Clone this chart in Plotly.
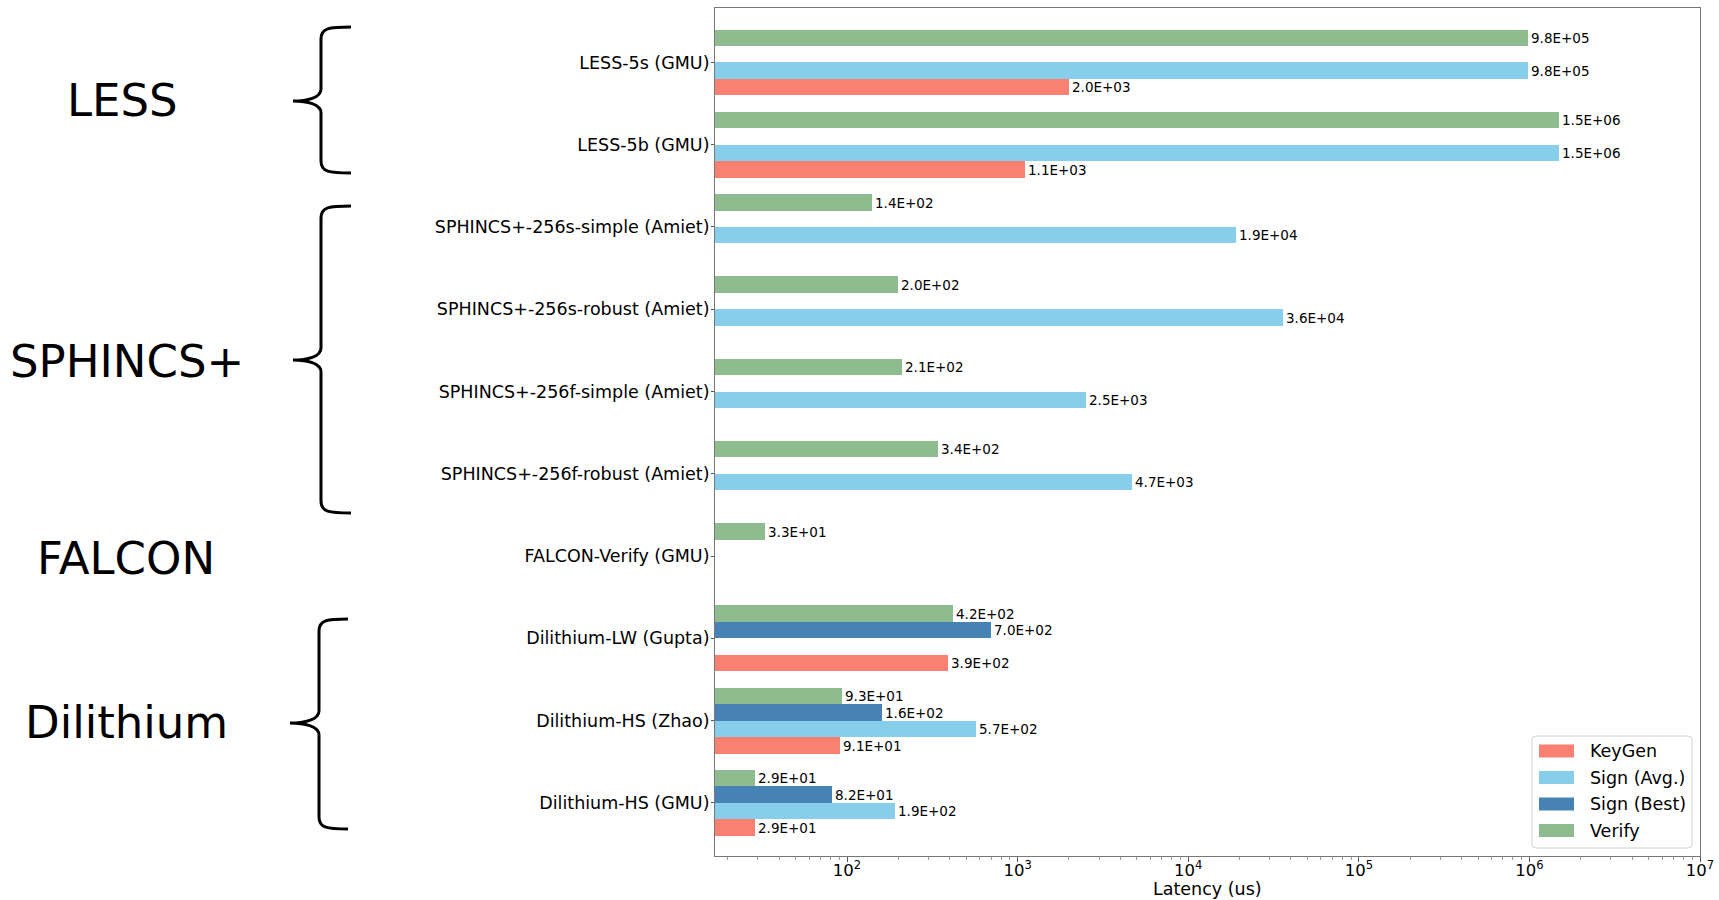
import plotly.graph_objects as go

# ---- data -----------------------------------------------------------------
categories = [
    "LESS-5s (GMU)",
    "LESS-5b (GMU)",
    "SPHINCS+-256s-simple (Amiet)",
    "SPHINCS+-256s-robust (Amiet)",
    "SPHINCS+-256f-simple (Amiet)",
    "SPHINCS+-256f-robust (Amiet)",
    "FALCON-Verify (GMU)",
    "Dilithium-LW (Gupta)",
    "Dilithium-HS (Zhao)",
    "Dilithium-HS (GMU)",
]

# latency in microseconds (None = not reported)
keygen = [2.0e3, 1.1e3, None, None, None, None, None, 3.9e2, 9.1e1, 2.9e1]
sign_avg = [9.8e5, 1.5e6, 1.9e4, 3.6e4, 2.5e3, 4.7e3, None, None, 5.7e2, 1.9e2]
sign_best = [None, None, None, None, None, None, None, 7.0e2, 1.6e2, 8.2e1]
verify = [9.8e5, 1.5e6, 1.4e2, 2.0e2, 2.1e2, 3.4e2, 3.3e1, 4.2e2, 9.3e1, 2.9e1]

series_names = ["KeyGen", "Sign (Avg.)", "Sign (Best)", "Verify"]
series_values = [keygen, sign_avg, sign_best, verify]

x_tick_exponents = [2, 3, 4, 5, 6, 7]

# scheme families shown at the left
family_names = ["LESS", "SPHINCS+", "FALCON", "Dilithium"]

# ---- styling ----------------------------------------------------------------
colors = ["#FA8072", "#87CEEB", "#4682B4", "#8FBC8F"]
offsets = [0.3, 0.1, -0.1, -0.3]
bar_h = 0.2
FONT = "DejaVu Sans"

W, H = 1719, 900
ML, MR, MT, MB = 715, 19, 8, 44
PW, PH = W - ML - MR, H - MT - MB


def px(x):
    return (x - ML) / PW


def py(y):
    return (H - MB - y) / PH


def fmt(v):
    return f"{v:.1E}"


fig = go.Figure()

for name, vals, col, off in zip(series_names, series_values, colors, offsets):
    ys, xs, txt = [], [], []
    for i, v in enumerate(vals):
        if v is None:
            continue
        ys.append(i + off)
        xs.append(v)
        txt.append(fmt(v))
    fig.add_trace(go.Bar(
        name=name, orientation="h", x=xs, y=ys, width=bar_h,
        marker=dict(color=col, line=dict(width=0)),
        text=txt, textposition="outside", cliponaxis=False,
        constraintext="none",
        textfont=dict(family=FONT, size=13.5, color="black"),
        showlegend=False,
    ))

minor_vals = [m * 10 ** e for e in range(1, 7) for m in range(2, 10) if m * 10 ** e > 17]

fig.update_layout(
    width=W, height=H,
    margin=dict(l=ML, r=MR, t=MT, b=MB, autoexpand=False),
    paper_bgcolor="white", plot_bgcolor="white",
    barmode="overlay", bargap=0,
    font=dict(family=FONT, color="black"),
    xaxis=dict(
        type="log", range=[1.226, 7],
        tickvals=[10 ** e for e in x_tick_exponents],
        ticktext=[f"10<sup>{e}</sup>" for e in x_tick_exponents],
        ticks="outside", ticklen=5, tickcolor="#555",
        ticklabelstandoff=-6,
        tickfont=dict(family=FONT, size=16.5, color="black"),
        minor=dict(tickvals=minor_vals, ticks="outside", ticklen=3, tickcolor="#999"),
        showline=True, linecolor="#777", linewidth=1, mirror=True,
        showgrid=False, zeroline=False, automargin=False,
    ),
    yaxis=dict(
        range=[9.646, -0.662],
        tickvals=list(range(len(categories))), ticktext=categories,
        ticks="outside", ticklen=3, tickcolor="#555",
        ticklabelstandoff=-2,
        tickfont=dict(family=FONT, size=17.5, color="black"),
        showline=True, linecolor="#777", linewidth=1, mirror=True,
        showgrid=False, zeroline=False, automargin=False,
    ),
)

annotations = []
shapes = []

# x-axis title
annotations.append(dict(
    text="Latency (us)", xref="paper", yref="paper", x=0.5, y=py(889),
    xanchor="center", yanchor="middle", showarrow=False,
    font=dict(family=FONT, size=17.5, color="black"),
))

# family labels
family_pos = [(122, 101), (127, 361), (126, 558), (126, 722)]
for name, (cx, cy) in zip(family_names, family_pos):
    annotations.append(dict(
        text=name, xref="paper", yref="paper", x=px(cx), y=py(cy),
        xanchor="center", yanchor="middle", showarrow=False,
        font=dict(family=FONT, size=45, color="black"),
    ))


def brace(xv, xt, xe, yt, yb, ym):
    pts = [
        ("M", [(xe, yt)]),
        ("C", [(xv + 8, yt), (xv, yt + 1), (xv, yt + 12)]),
        ("L", [(xv, ym - 12)]),
        ("C", [(xv, ym - 3), (xt + 14, ym), (xt, ym)]),
        ("C", [(xt + 14, ym), (xv, ym + 3), (xv, ym + 12)]),
        ("L", [(xv, yb - 12)]),
        ("C", [(xv, yb - 1), (xv + 8, yb), (xe, yb)]),
    ]
    out = []
    for cmd, ps in pts:
        out.append(cmd + " ".join(f"{px(a):.5f},{py(b):.5f}" for a, b in ps))
    return " ".join(out)


brace_geom = [
    (321, 293, 351, 27, 173, 101),
    (321, 293, 351, 206, 513, 360),
    (319, 290, 348, 619, 829, 723),
]
for g in brace_geom:
    shapes.append(dict(type="path", xref="paper", yref="paper", path=brace(*g),
                       line=dict(color="black", width=3)))

# legend box
lx0, lx1, ly0, ly1, r = 1532, 1692, 736, 848, 4
box = (f"M{px(lx0 + r)},{py(ly0)} L{px(lx1 - r)},{py(ly0)} "
       f"Q{px(lx1)},{py(ly0)} {px(lx1)},{py(ly0 + r)} L{px(lx1)},{py(ly1 - r)} "
       f"Q{px(lx1)},{py(ly1)} {px(lx1 - r)},{py(ly1)} L{px(lx0 + r)},{py(ly1)} "
       f"Q{px(lx0)},{py(ly1)} {px(lx0)},{py(ly1 - r)} L{px(lx0)},{py(ly0 + r)} "
       f"Q{px(lx0)},{py(ly0)} {px(lx0 + r)},{py(ly0)} Z")
shapes.append(dict(type="path", xref="paper", yref="paper", path=box,
                   fillcolor="rgba(255,255,255,0.85)", line=dict(color="#d0d0d0", width=1)))
for k, (name, col) in enumerate(zip(series_names, colors)):
    cy = 751 + k * 26.5
    shapes.append(dict(type="rect", xref="paper", yref="paper",
                       x0=px(1539), x1=px(1574), y0=py(cy - 6.5), y1=py(cy + 6.5),
                       fillcolor=col, line=dict(width=0)))
    annotations.append(dict(
        text=name, xref="paper", yref="paper", x=px(1588), y=py(cy),
        xanchor="left", yanchor="middle", showarrow=False,
        font=dict(family=FONT, size=17.5, color="black"),
    ))

fig.update_layout(annotations=annotations, shapes=shapes)

fig.write_html("out.html")
